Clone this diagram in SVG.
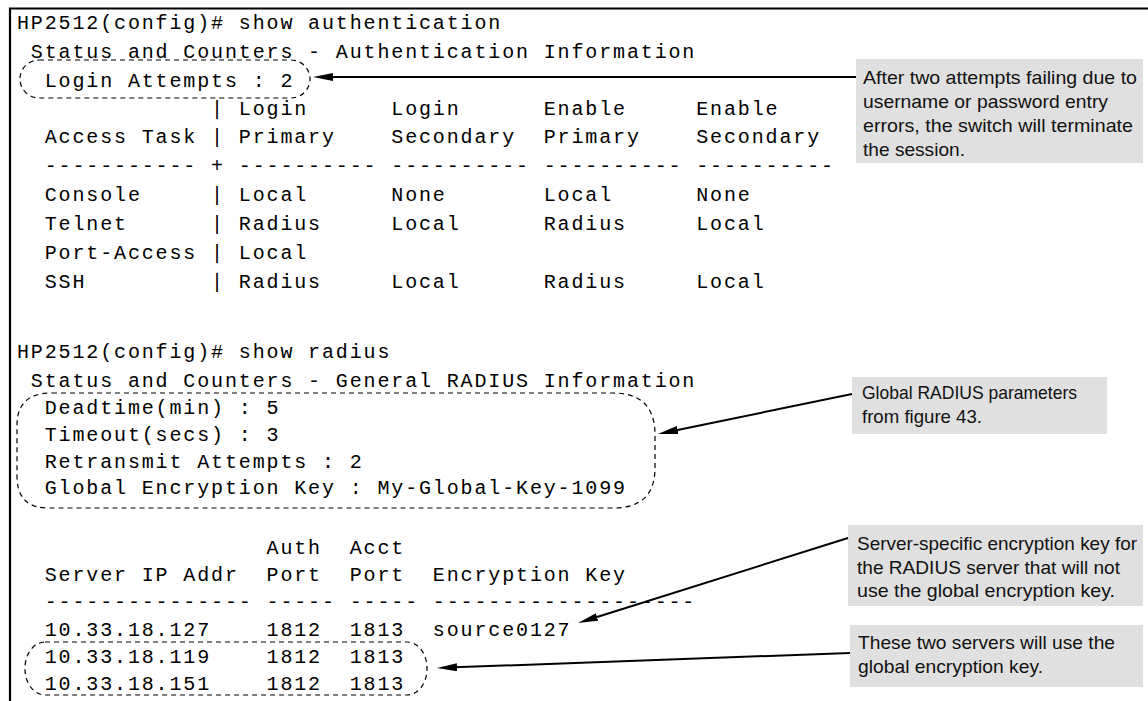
<svg xmlns="http://www.w3.org/2000/svg" width="1148" height="701" viewBox="0 0 1148 701">
<style>
  .t { font-family: "Liberation Mono", "DejaVu Sans Mono", monospace; font-size: 20px; letter-spacing: 1.86px; fill: #000; white-space: pre; }
  .c { font-family: "Liberation Sans", Arial, sans-serif; font-size: 19px; fill: #111; }
  .box { fill: #e0e0e0; stroke: none; }
  .dash { fill: none; stroke: #000; stroke-width: 1.2; stroke-dasharray: 5 4; }
  .arrow { fill: none; stroke: #000; stroke-width: 2; marker-end: url(#ah); }
  .frame { fill: none; stroke: #000; stroke-width: 2.2; }
</style>
<defs>
  <marker id="ah" markerUnits="userSpaceOnUse" viewBox="0 0 20 8" refX="10" refY="4" markerWidth="20" markerHeight="8" orient="auto">
    <path d="M0,0 L20,4 L0,8 Z" fill="#000"/>
  </marker>
</defs>
<rect x="0" y="0" width="1148" height="701" fill="#fff"/>
<path class="frame" d="M10,701 V8.5 H1148"/>

<g id="terminal-auth">
  <text class="t" xml:space="preserve" x="17" y="29">HP2512(config)# show authentication</text>
  <text class="t" xml:space="preserve" x="17" y="58"> Status and Counters - Authentication Information</text>
  <text class="t" xml:space="preserve" x="17" y="87">  Login Attempts : 2</text>
  <text class="t" xml:space="preserve" x="17" y="115">              | Login      Login      Enable     Enable</text>
  <text class="t" xml:space="preserve" x="17" y="143">  Access Task | Primary    Secondary  Primary    Secondary</text>
  <text class="t" xml:space="preserve" x="17" y="172">  ----------- + ---------- ---------- ---------- ----------</text>
  <text class="t" xml:space="preserve" x="17" y="201">  Console     | Local      None       Local      None</text>
  <text class="t" xml:space="preserve" x="17" y="230">  Telnet      | Radius     Local      Radius     Local</text>
  <text class="t" xml:space="preserve" x="17" y="259">  Port-Access | Local</text>
  <text class="t" xml:space="preserve" x="17" y="288">  SSH         | Radius     Local      Radius     Local</text>
</g>

<g id="terminal-radius">
  <text class="t" xml:space="preserve" x="17" y="358">HP2512(config)# show radius</text>
  <text class="t" xml:space="preserve" x="17" y="387"> Status and Counters - General RADIUS Information</text>
  <text class="t" xml:space="preserve" x="17" y="414">  Deadtime(min) : 5</text>
  <text class="t" xml:space="preserve" x="17" y="441">  Timeout(secs) : 3</text>
  <text class="t" xml:space="preserve" x="17" y="468">  Retransmit Attempts : 2</text>
  <text class="t" xml:space="preserve" x="17" y="494">  Global Encryption Key : My-Global-Key-1099</text>
  <text class="t" xml:space="preserve" x="17" y="554">                  Auth  Acct</text>
  <text class="t" xml:space="preserve" x="17" y="581">  Server IP Addr  Port  Port  Encryption Key</text>
  <text class="t" xml:space="preserve" x="17" y="608">  --------------- ----- ----- -------------------</text>
  <text class="t" xml:space="preserve" x="17" y="636">  10.33.18.127    1812  1813  source0127</text>
  <text class="t" xml:space="preserve" x="17" y="663">  10.33.18.119    1812  1813</text>
  <text class="t" xml:space="preserve" x="17" y="690">  10.33.18.151    1812  1813</text>
</g>

<g id="highlights">
  <rect id="hl-login" class="dash" x="20" y="60" width="290" height="38" rx="19" ry="19"/>
  <path id="hl-global" class="dash" d="M52,393 H613 Q655,393 655,435 V468 Q655,508 613,508 H48 Q17,508 17,476 V425 Q17,393 52,393 Z"/>
  <rect id="hl-servers" class="dash" x="25" y="642" width="402" height="53" rx="20" ry="26"/>
</g>

<g id="callout-login">
  <rect class="box" x="856" y="59" width="287" height="104"/>
  <text class="c" x="863" y="84" textLength="274" lengthAdjust="spacingAndGlyphs">After two attempts failing due to</text>
  <text class="c" x="863" y="108" textLength="245" lengthAdjust="spacingAndGlyphs">username or password entry</text>
  <text class="c" x="863" y="132" textLength="270" lengthAdjust="spacingAndGlyphs">errors, the switch will terminate</text>
  <text class="c" x="863" y="156" textLength="102" lengthAdjust="spacingAndGlyphs">the session.</text>
</g>

<g id="callout-global">
  <rect class="box" x="852" y="377" width="255" height="57"/>
  <text class="c" x="862" y="399" textLength="215" lengthAdjust="spacingAndGlyphs">Global RADIUS parameters</text>
  <text class="c" x="862" y="423" textLength="120" lengthAdjust="spacingAndGlyphs">from figure 43.</text>
</g>

<g id="callout-server">
  <rect class="box" x="848" y="525" width="295" height="81"/>
  <text class="c" x="857" y="550" textLength="280" lengthAdjust="spacingAndGlyphs">Server-specific encryption key for</text>
  <text class="c" x="857" y="574" textLength="263" lengthAdjust="spacingAndGlyphs">the RADIUS server that will not</text>
  <text class="c" x="857" y="597" textLength="258" lengthAdjust="spacingAndGlyphs">use the global encryption key.</text>
</g>

<g id="callout-two">
  <rect class="box" x="850" y="625" width="293" height="62"/>
  <text class="c" x="858" y="649" textLength="257" lengthAdjust="spacingAndGlyphs">These two servers will use the</text>
  <text class="c" x="858" y="673" textLength="185" lengthAdjust="spacingAndGlyphs">global encryption key.</text>
</g>

<g id="connectors">
  <line class="arrow" x1="856" y1="77" x2="323" y2="77"/>
  <line class="arrow" x1="852" y1="394" x2="667.8" y2="432"/>
  <line class="arrow" x1="848" y1="538" x2="587.5" y2="620"/>
  <line class="arrow" x1="850" y1="653" x2="447" y2="667.6"/>
</g>
</svg>
